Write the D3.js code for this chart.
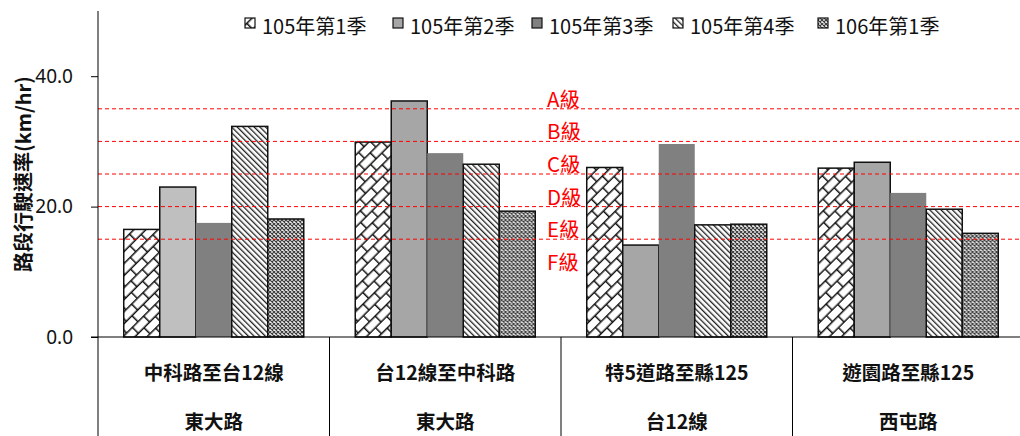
<!DOCTYPE html>
<html>
<head>
<meta charset="utf-8">
<script src="https://cdn.jsdelivr.net/npm/d3@7/dist/d3.min.js"></script>
<style>
  html, body { margin: 0; padding: 0; background: #fff; }
  svg { display: block; font-family: "Noto Sans CJK TC", "Noto Sans", sans-serif; }
</style>
</head>
<body>
<svg id="chart" width="1020" height="436"></svg>
<script>
// Quarterly travel speed by road segment
const quarters = ["105年第1季", "105年第2季", "105年第3季", "105年第4季", "106年第1季"];
const segments = ["中科路至台12線", "台12線至中科路", "特5道路至縣125", "遊園路至縣125"];
const roads = ["東大路", "東大路", "台12線", "西屯路"];
const q105_1 = [16.5, 29.9, 26.0, 25.9];
const q105_2 = [23.0, 36.2, 14.1, 26.8];
const q105_3 = [17.5, 28.2, 29.6, 22.1];
const q105_4 = [32.3, 26.5, 17.2, 19.6];
const q106_1 = [18.1, 19.3, 17.3, 15.9];
const yTicks = [0, 20, 40];
// service level grades and their lower speed bounds
const grades = ["A級", "B級", "C級", "D級", "E級", "F級"];
const gradeLow = [35, 30, 25, 20, 15, 10];

const seriesValues = [q105_1, q105_2, q105_3, q105_4, q106_1];
const rows = segments.map((s, i) => ({
  segment: s,
  road: roads[i],
  values: quarters.map((q, j) => ({ quarter: q, value: seriesValues[j][i], idx: j }))
}));

const svg = d3.select("#chart");
const plotL = 98, plotR = 1024, plotT = 11, plotB = 337, frameB = 436;

const x0 = d3.scaleBand().domain(segments).range([plotL, plotR]).paddingInner(0).paddingOuter(0);
const x1 = d3.scaleBand().domain(quarters).range([0, x0.bandwidth()]).paddingInner(0).paddingOuter(0.715);
const y = d3.scaleLinear().domain([0, 50]).range([plotB, plotT]);

// fill patterns
const defs = svg.append("defs");
// diagonal brick
const brick = defs.append("pattern").attr("id", "p-brick").attr("patternUnits", "userSpaceOnUse")
  .attr("width", 16).attr("height", 17).attr("patternTransform", "rotate(-45)");
brick.append("rect").attr("width", 16).attr("height", 17).attr("fill", "#fff");
brick.append("path")
  .attr("d", "M0,0.75H16M0,9.25H16M0.75,0V8.5M8.75,8.5V17")
  .attr("stroke", "#111").attr("stroke-width", 1.5).attr("fill", "none");
// dense downward diagonal
const diag = defs.append("pattern").attr("id", "p-diag").attr("patternUnits", "userSpaceOnUse")
  .attr("width", 4).attr("height", 4).attr("patternTransform", "rotate(-45)");
diag.append("rect").attr("width", 4).attr("height", 4).attr("fill", "#fff");
diag.append("rect").attr("width", 1.3).attr("height", 4).attr("fill", "#222");
// small lattice
const lat = defs.append("pattern").attr("id", "p-lattice").attr("patternUnits", "userSpaceOnUse")
  .attr("width", 4).attr("height", 4);
lat.append("rect").attr("width", 4).attr("height", 4).attr("fill", "#eeeeee");
lat.append("path").attr("d", "M0,0L4,4M4,0L0,4").attr("stroke", "#3a3a3a").attr("stroke-width", 1.1);

const fills = ["url(#p-brick)", "#a6a6a6", "#808080", "url(#p-diag)", "url(#p-lattice)"];
const strokes = ["#111", "#111", "none", "#111", "#111"];
function barFill(d) {
  if (d.idx === 1 && d.segment === segments[0]) return "#bfbfbf";
  return fills[d.idx];
}

// bars
const groups = svg.append("g").selectAll("g").data(rows).join("g")
  .attr("transform", d => `translate(${x0(d.segment)},0)`);
groups.selectAll("rect").data(d => d.values.map(v => Object.assign({ segment: d.segment }, v))).join("rect")
  .attr("x", d => x1(d.quarter))
  .attr("y", d => y(d.value))
  .attr("width", x1.bandwidth())
  .attr("height", d => y(0) - y(d.value))
  .attr("fill", d => barFill(d))
  .attr("stroke", d => strokes[d.idx])
  .attr("stroke-width", 1.5);

// grade boundary lines
svg.append("g").selectAll("line").data(gradeLow.slice(0, 5)).join("line")
  .attr("x1", plotL).attr("x2", plotR)
  .attr("y1", d => y(d)).attr("y2", d => y(d))
  .attr("stroke", "#ff0000").attr("stroke-width", 1)
  .attr("stroke-dasharray", "4,3");

// grade labels
svg.append("g").selectAll("text").data(grades).join("text")
  .attr("x", 547)
  .attr("y", (d, i) => y(gradeLow[i]) - 11)
  .attr("dominant-baseline", "central")
  .attr("fill", "#ff0000")
  .attr("font-size", 20.5)
  .text(d => d);

// y axis
const yAxis = d3.axisLeft(y).tickValues(yTicks).tickFormat(d3.format(".1f")).tickSize(7).tickPadding(18);
const yg = svg.append("g").attr("transform", `translate(${plotL},0)`).call(yAxis);
yg.select(".domain").remove();
yg.selectAll(".tick line").attr("stroke", "#000");
yg.selectAll(".tick text").attr("font-size", 19).attr("fill", "#111")
  .attr("font-family", "'Noto Sans', 'Noto Sans CJK TC', sans-serif");
svg.append("line").attr("x1", plotL).attr("x2", plotL).attr("y1", plotT).attr("y2", frameB)
  .attr("stroke", "#000").attr("stroke-width", 1);

// x axis baseline and group dividers
svg.append("line").attr("x1", plotL - 7).attr("x2", plotR).attr("y1", plotB).attr("y2", plotB)
  .attr("stroke", "#000").attr("stroke-width", 1);
svg.append("g").selectAll("line").data(segments.slice(1)).join("line")
  .attr("x1", d => x0(d)).attr("x2", d => x0(d))
  .attr("y1", plotB).attr("y2", frameB)
  .attr("stroke", "#000").attr("stroke-width", 1);

// category labels
svg.append("g").selectAll("text").data(rows).join("text")
  .attr("x", d => x0(d.segment) + x0.bandwidth() / 2)
  .attr("y", 371)
  .attr("text-anchor", "middle").attr("dominant-baseline", "central")
  .attr("font-size", 19.5).attr("font-weight", "bold").attr("fill", "#111")
  .text(d => d.segment);
svg.append("g").selectAll("text").data(rows).join("text")
  .attr("x", d => x0(d.segment) + x0.bandwidth() / 2)
  .attr("y", 420)
  .attr("text-anchor", "middle").attr("dominant-baseline", "central")
  .attr("font-size", 19.5).attr("font-weight", "bold").attr("fill", "#111")
  .text(d => d.road);

// y axis title
svg.append("text")
  .attr("transform", `translate(22,${(plotT + plotB) / 2}) rotate(-90)`)
  .attr("text-anchor", "middle").attr("dominant-baseline", "central")
  .attr("font-size", 20).attr("font-weight", "bold").attr("fill", "#111")
  .text("路段行駛速率(km/hr)");

// legend
const legendX = [245, 393, 532, 673, 818];
const lg = svg.append("g").selectAll("g").data(quarters).join("g")
  .attr("transform", (d, i) => `translate(${legendX[i]},0)`);
lg.append("rect").attr("x", 0).attr("y", 18).attr("width", 10).attr("height", 10)
  .attr("fill", (d, i) => fills[i]).attr("stroke", "#111").attr("stroke-width", 1.2);
lg.append("text").attr("x", 17).attr("y", 25)
  .attr("dominant-baseline", "central").attr("font-size", 20).attr("fill", "#111")
  .text(d => d);
</script>
</body>
</html>
